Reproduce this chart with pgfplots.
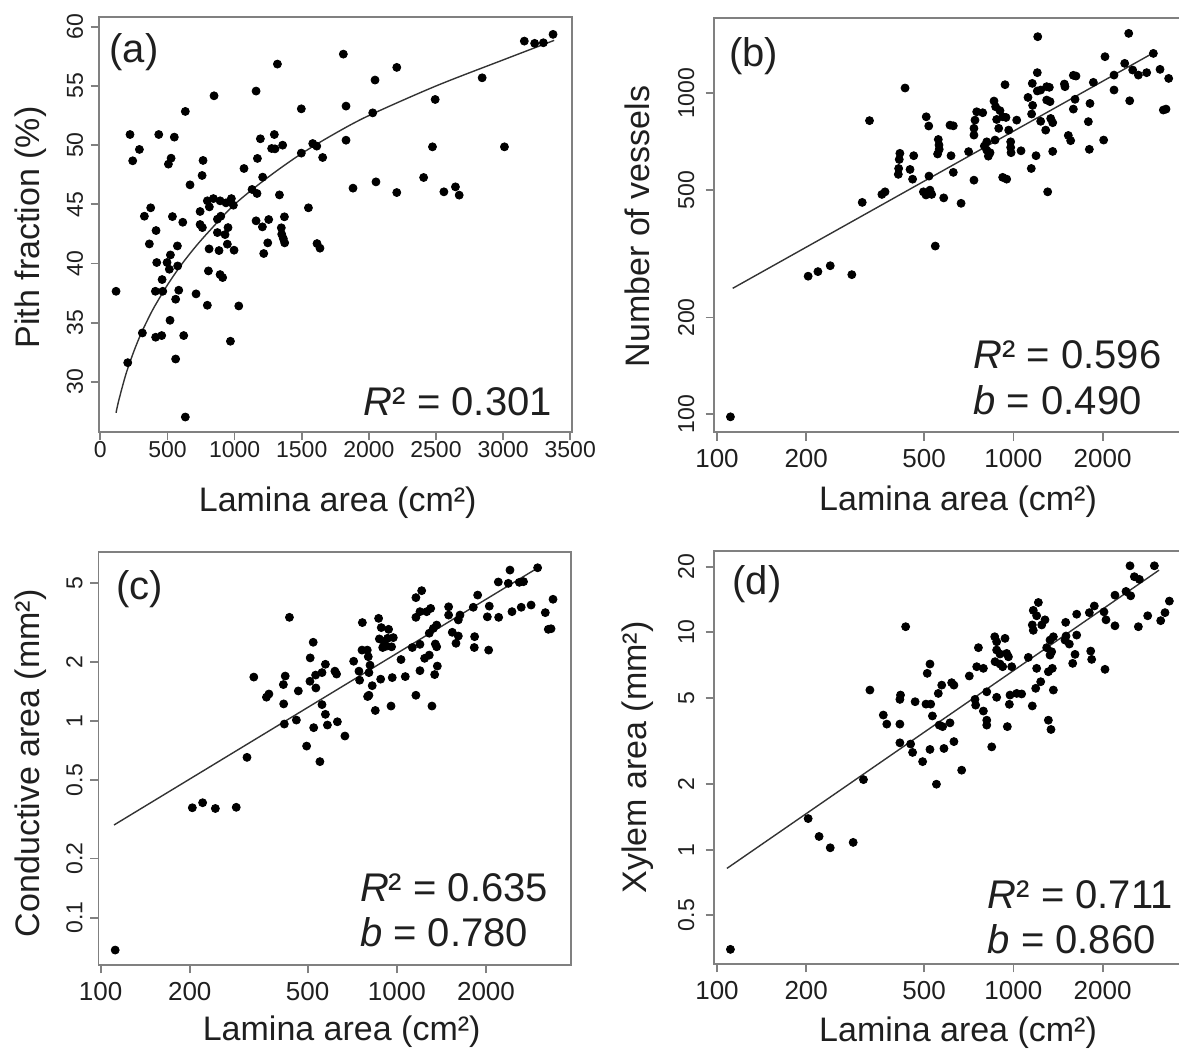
\documentclass[border=0pt]{standalone}
\usepackage{fontspec}
\setmainfont{Liberation Sans}
\usepackage{pgfplots}
\pgfplotsset{compat=1.18}

\definecolor{boxgray}{gray}{0.5}
\definecolor{txt}{gray}{0.12}

\pgfplotsset{
  panel/.style={
    scale only axis, anchor=north west,
    axis line style={draw=boxgray, line width=0.9pt},
    every tick/.style={draw=boxgray, line width=0.9pt},
    major tick length=4.2pt,
    tick align=outside, xtick pos=lower, ytick pos=left,
    clip=false,
    every axis x label/.style={anchor=base, font=\fontsize{17}{17}\selectfont, text=txt},
    every axis y label/.style={rotate=90, anchor=center, font=\fontsize{17}{17}\selectfont, text=txt},
    yticklabel style={rotate=90, anchor=base, font=\fontsize{11.5}{11.5}\selectfont, text=txt},
    xticklabel style={anchor=base, font=\fontsize{13}{13}\selectfont, text=txt},
    xlabel={Lamina area (cm²)},
  },
  logpanel/.style={
    panel,
    xtick={100,200,500,1000,2000}, xticklabels={100,200,500,1000,2000},
    xticklabel style={yshift=-13.5pt},
  },
  dots/.style={only marks, mark=*, mark size=2pt, black},
  fit/.style={no marks, black!80, line width=0.7pt},
}
\tikzset{big/.style={font=\fontsize{20}{20}\selectfont, text=txt, inner sep=0pt}}

\begin{document}
\begin{tikzpicture}
\path[use as bounding box] (0,0) rectangle (589.5pt,-525pt);

% (a) pith fraction, linear axes
\begin{axis}[panel, at={(49.5pt,-8.65pt)}, width=236.35pt, height=207.2pt,
  xmin=-10, xmax=3511, ymin=25.8, ymax=60.8,
  xtick={0,500,1000,1500,2000,2500,3000,3500},
  xticklabels={0,500,1000,1500,2000,2500,3000,3500},
  ytick={30,35,40,45,50,55,60}, yticklabels={30,35,40,45,50,55,60},
  xticklabel style={font=\fontsize{11.5}{11.5}\selectfont, yshift=-8.6pt},
  yticklabel style={yshift=3.8pt},
  ylabel={Pith fraction (\%)},
  every axis y label/.append style={at={(axis description cs:-0.145,0.493)}},
  every axis x label/.append style={at={(axis description cs:0.505,-0.193)}},
]
\addplot[dots] coordinates {
(847,54.17)(1160,54.57)(633,52.85)(1497,53.07)(1830,53.30)(2029,52.73)
(221,50.90)(435,50.90)(551,50.68)(291,49.64)(241,48.68)(527,48.90)
(507,48.40)(765,48.71)(758,47.44)(668,46.65)(1070,48.03)(1192,50.54)
(1296,50.90)(1276,49.72)(1301,49.69)(1358,50.00)(1497,49.33)(1582,50.14)
(1612,49.92)(1656,48.96)(1830,50.42)(1170,48.88)(1209,47.30)(1130,46.26)
(1167,45.92)(1334,45.80)(1550,44.71)(1882,46.37)(2053,46.90)(375,44.71)
(328,44.00)(537,43.97)(614,43.49)(415,42.79)(365,41.66)(574,41.49)
(743,44.40)(797,45.30)(842,45.49)(812,44.79)(892,45.30)(936,45.13)
(976,45.49)(991,44.93)(897,44.00)(872,43.75)(743,43.30)(760,43.04)
(872,42.62)(929,42.45)(951,43.04)(810,41.24)(884,41.10)(946,41.64)
(996,41.13)(1160,43.61)(1207,43.10)(1254,43.72)(1371,43.95)(1348,43.02)
(1351,42.48)(1363,42.11)(1373,41.75)(1247,41.75)(1217,40.85)(1614,41.69)
(1636,41.30)(522,40.73)(497,40.09)(420,40.09)(514,39.52)(576,39.80)
(460,38.65)(410,37.66)(465,37.66)(584,37.75)(561,36.99)(117,37.66)
(713,37.44)(805,39.38)(892,39.07)(911,38.82)(797,36.48)(1031,36.42)
(313,34.14)(412,33.78)(457,33.92)(519,35.21)(621,33.92)(969,33.44)
(204,31.63)(561,31.94)(633,27.04)
(1319,56.85)(1810,57.69)(2046,55.50)(2208,56.57)(2844,55.69)(2494,53.86)
(3158,58.79)(3235,58.60)(3300,58.65)(3372,59.36)(2474,49.86)(3010,49.86)
(2408,47.27)(2208,46.00)(2559,46.06)(2645,46.48)(2673,45.78)
};
\addplot[fit, smooth] coordinates {
(117,27.4)(130,28.1)(150,29.0)(175,30.05)(200,31.0)(250,32.6)(300,34.0)
(350,35.2)(400,36.3)(500,38.2)(600,39.85)(700,41.3)(800,42.6)(1000,45.0)
(1250,47.3)(1500,49.3)(1750,51.0)(2000,52.5)(2500,55.0)(3000,57.2)(3380,58.85)
};
\end{axis}

% (b) number of vessels, log-log
\begin{loglogaxis}[logpanel, at={(357pt,-9.15pt)}, width=236.95pt, height=207pt,
  xmin=97.7, xmax=3880, ymin=87.7, ymax=1714,
  ytick={100,200,500,1000}, yticklabels={100,200,500,1000},
  yticklabel style={yshift=5.8pt},
  ylabel={Number of vessels},
  every axis y label/.append style={at={(axis description cs:-0.161,0.497)}},
  every axis x label/.append style={at={(axis description cs:0.515,-0.188)}},
]
\addplot[dots] coordinates {
(1208,1502)(2449,1538)(431,1039)(327,822)(2037,1301)(2966,1332)(2374,1240)
(2526,1182)(2640,1140)(2816,1160)(3124,1188)(3341,1113)(2185,1140)(2185,1024)
(2468,948)(3205,887)(3273,893)(1861,1082)(1626,1132)(1593,1138)(1486,1069)
(1493,1049)(1813,930)(1614,958)(1593,893)(1790,816)(2016,715)(1804,669)
(1532,739)(1560,712)(1357,659)(1336,835)(1357,810)(1285,768)(1236,818)
(1192,639)(1149,583)(1305,493)(1204,1160)(1158,1074)(1204,1017)(1236,1024)
(1295,1049)(1322,1044)(1120,971)(1161,917)(1295,953)(1329,942)(1152,862)
(1026,825)(937,1064)(860,946)(871,908)(901,883)(878,829)(920,845)(944,841)
(892,778)(964,768)(752,876)(788,870)(742,825)(736,778)(736,741)(813,706)
(798,685)(813,665)(834,653)(823,637)(867,715)(979,706)(979,678)(982,653)
(1061,662)(920,547)(949,540)(736,536)(706,658)(611,796)(627,792)(558,718)
(561,690)(562,669)(555,647)(508,845)(518,791)(616,639)(627,567)(519,552)
(523,499)(497,493)(507,482)(530,484)(582,472)(666,454)(461,639)(414,650)
(412,622)(410,583)(409,559)(448,579)(457,540)(360,484)(369,493)(309,457)
(545,334)(241,290)(285,272)(111,98)(203,269)(219,278)
};
\addplot[fit] coordinates {(113,246.6)(2970,1338)};
\end{loglogaxis}

% (c) conductive area, log-log
\begin{loglogaxis}[logpanel, at={(49.2pt,-276.15pt)}, width=236.4pt, height=206.35pt,
  xmin=98.3, xmax=3880, ymin=0.0575, ymax=7.19,
  ytick={0.1,0.2,0.5,1,2,5}, yticklabels={0.1,0.2,0.5,1,2,5},
  yticklabel style={yshift=3.8pt},
  ylabel={Conductive area (mm²)},
  every axis y label/.append style={at={(axis description cs:-0.1434,0.489)}},
  every axis x label/.append style={at={(axis description cs:0.5146,-0.1817)}},
]
\addplot[dots] coordinates {
(434,3.36)(522,2.51)(510,2.09)(574,1.94)(329,1.67)(420,1.69)(414,1.53)
(509,1.59)(532,1.71)(559,1.76)(533,1.47)(618,1.79)(626,1.73)(465,1.42)
(370,1.37)(363,1.32)(415,1.22)(559,1.21)(574,1.08)(583,0.953)(630,0.99)
(524,0.924)(458,1.01)(417,0.964)(668,0.838)(496,0.745)(550,0.621)(312,0.653)
(287,0.364)(715,2.01)(765,3.16)(868,3.32)(886,2.98)(938,2.92)(763,2.29)
(795,2.29)(801,2.12)(812,1.92)(873,2.61)(905,2.53)(931,2.63)(973,2.65)
(896,2.36)(924,2.40)(960,2.38)(745,1.79)(749,1.61)(805,1.76)(826,1.51)
(882,1.63)(805,1.35)(797,1.33)(965,1.66)(1068,1.68)(846,1.13)(956,1.19)
(1033,2.05)(1128,2.36)(1197,2.45)(1197,1.80)(1160,1.35)(1314,1.19)(1241,2.08)
(1287,2.16)(1370,1.90)(1342,1.72)(1349,2.46)(1363,2.38)(1160,4.23)(1213,4.59)
(1160,3.36)(1197,3.59)(1261,3.59)(1301,3.73)(1287,2.79)(1328,2.95)(1363,3.07)
(1496,3.80)(1496,3.45)(1613,3.26)(1634,3.45)(1539,2.82)(1613,2.70)(1584,2.48)
(1831,2.68)(1826,2.36)(2042,2.29)(2021,3.38)(2207,3.36)(2052,3.83)(1875,4.36)
(1812,3.78)(2201,5.08)(2379,5.00)(2410,5.84)(2592,5.06)(2678,5.10)(2988,6.00)
(2448,3.59)(2630,3.78)(2840,3.88)(3172,3.55)(3368,4.15)(3247,2.92)(3316,2.94)
(112,0.0685)(204,0.362)(221,0.384)(244,0.359)
};
\addplot[fit] coordinates {(111,0.296)(3034,6.07)};
\end{loglogaxis}

% (d) xylem area, log-log
\begin{loglogaxis}[logpanel, at={(357pt,-275.35pt)}, width=236.95pt, height=206.65pt,
  xmin=97.7, xmax=3880, ymin=0.298, ymax=23.7,
  ytick={0.5,1,2,5,10,20}, yticklabels={0.5,1,2,5,10,20},
  yticklabel style={yshift=5.8pt},
  ylabel={Xylem area (mm²)},
  every axis y label/.append style={at={(axis description cs:-0.1606,0.5)}},
  every axis x label/.append style={at={(axis description cs:0.515,-0.188)}},
]
\addplot[dots] coordinates {
(2474,20.2)(2989,20.2)(2559,18.0)(2660,17.5)(2201,14.8)(2398,15.4)(2487,14.7)
(3359,13.9)(3247,12.3)(3140,11.3)(2838,11.9)(2640,10.6)(2201,10.7)(2053,11.4)
(2021,12.4)(1875,13.2)(1804,12.3)(1635,12.1)(1501,11.1)(1505,9.60)(1493,9.20)
(1544,8.82)(1614,7.91)(1635,9.70)(1585,7.19)(1823,8.19)(1837,7.50)(2037,6.75)
(1364,9.53)(1329,9.20)(1167,12.6)(1214,13.7)(1198,11.9)(1278,11.4)(1158,10.8)
(1167,10.2)(1246,10.8)(1295,8.49)(1346,8.13)(1329,7.85)(1123,7.66)(1198,6.82)
(1312,6.58)(1353,6.82)(1236,5.92)(1189,5.52)(1364,5.42)(1158,4.58)(1312,3.94)
(1339,3.57)(865,9.53)(937,9.37)(878,9.04)(762,8.49)(878,8.28)(901,7.94)
(962,7.71)(949,7.99)(867,7.32)(920,6.94)(901,7.14)(987,6.94)(752,6.94)
(792,6.82)(710,6.29)(813,5.32)(742,4.91)(746,4.62)(792,4.34)(813,3.94)
(813,3.74)(878,5.02)(974,5.14)(1026,5.23)(1066,5.20)(969,4.66)(954,3.68)
(845,2.97)(669,2.32)(523,7.14)(512,6.47)(573,5.71)(558,5.23)(619,5.86)
(630,5.71)(466,4.79)(416,5.14)(414,4.91)(507,4.67)(526,4.67)(533,4.12)
(562,3.74)(577,3.68)(611,3.83)(630,3.14)(583,2.92)(523,2.89)(414,3.10)
(450,3.06)(457,2.80)(494,2.54)(550,2.00)(364,4.16)(374,3.78)(414,3.78)
(328,5.42)(433,10.6)(312,2.10)(111,0.348)(203,1.39)(221,1.15)(241,1.02)(288,1.08)
};
\addplot[fit] coordinates {(108,0.82)(3101,19.3)};
\end{loglogaxis}

% panel letters and fit statistics
\node[big] at (67pt,-26.25pt) {(a)};
\node[big] at (376.85pt,-28pt) {(b)};
\node[big] at (69.85pt,-294.5pt) {(c)};
\node[big] at (378.5pt,-292pt) {(d)};

\node[big, anchor=base west] at (181.75pt,-207.5pt) {\textit{R}² = 0.301};
\node[big, anchor=base west] at (486.6pt,-184pt) {\textit{R}² = 0.596};
\node[big, anchor=base west] at (486.6pt,-207pt) {\textit{b} = 0.490};
\node[big, anchor=base west] at (179.85pt,-450.85pt) {\textit{R}² = 0.635};
\node[big, anchor=base west] at (179.85pt,-473.35pt) {\textit{b} = 0.780};
\node[big, anchor=base west] at (493.7pt,-454.15pt) {\textit{R}² = 0.711};
\node[big, anchor=base west] at (493.7pt,-476.65pt) {\textit{b} = 0.860};
\end{tikzpicture}
\end{document}
